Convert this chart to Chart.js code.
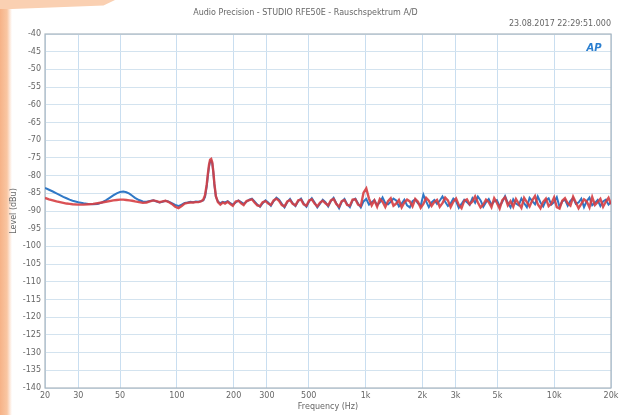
<!DOCTYPE html>
<html>
<head>
<meta charset="utf-8">
<script src="https://cdn.jsdelivr.net/npm/chart.js@4"></script>
<style>
  html, body { margin: 0; padding: 0; }
  body {
    width: 628px; height: 415px; overflow: hidden; position: relative;
    background: linear-gradient(to right, #f6b287 0, #f9c6a2 7px, #fde9dc 10px, #ffffff 12px);
  }
  #corner {
    position: absolute; left: 0; top: 0; width: 115px; height: 9px;
    background: #fad0b2;
    clip-path: polygon(0 0, 100% 0, 90% 60%, 12px 100%, 0 100%);
  }
  canvas { position: absolute; left: 0; top: 0; }
</style>
</head>
<body>
<div id="corner"></div>
<canvas id="noiseChart" width="628" height="415"></canvas>
<script>
// Frequenzen (Hz)
const freqHz = [
  20, 21, 22, 23, 24, 25, 26, 27, 28, 30,
  32, 34, 36, 38, 40, 42, 44, 46, 48, 50,
  52, 54, 56, 58, 60, 63, 66, 69, 72, 75,
  78, 81, 84, 87, 90, 94, 98, 102, 106, 110,
  114, 118, 122, 126, 130, 134, 138, 141, 144, 146,
  148, 150, 152, 154, 156, 158, 161, 165, 170, 175,
  180, 186, 192, 198, 205, 212, 219, 226, 234, 242,
  250, 258, 267, 276, 285, 295, 305, 315, 326, 337,
  348, 360, 372, 385, 398, 411, 425, 440, 455, 470,
  486, 502, 519, 537, 555, 574, 593, 613, 634, 655,
  677, 700, 724, 748, 773, 799, 826, 854, 883, 913,
  944, 976, 1009, 1043, 1078, 1114, 1152, 1191, 1231, 1273,
  1316, 1360, 1406, 1454, 1503, 1554, 1606, 1660, 1716, 1774,
  1834, 1896, 1960, 2026, 2095, 2165, 2239, 2314, 2392, 2473,
  2557, 2643, 2732, 2825, 2920, 3019, 3121, 3226, 3335, 3448,
  3564, 3685, 3809, 3938, 4071, 4209, 4351, 4498, 4650, 4807,
  4969, 5137, 5311, 5490, 5676, 5867, 6066, 6270, 6482, 6701,
  6928, 7162, 7404, 7654, 7912, 8180, 8456, 8742, 9037, 9343,
  9658, 9985, 10322, 10671, 11031, 11404, 11789, 12187, 12599, 13025,
  13465, 13920, 14390, 14876, 15379, 15898, 16436, 16991, 17565, 18158,
  18772, 19406, 20000
];

// Kanal 1 (blau), dBu
const blueLevel = [
  -83.5, -84.0, -84.5, -85.0, -85.5, -86.0, -86.4, -86.8, -87.1, -87.5,
  -87.8, -88.0, -88.1, -88.0, -87.6, -87.0, -86.3, -85.6, -85.0, -84.6,
  -84.5, -84.7, -85.1, -85.7, -86.3, -86.9, -87.3, -87.4, -87.2, -87.0,
  -87.3, -87.6, -87.4, -87.1, -87.3, -87.8, -88.3, -88.6, -88.2, -87.7,
  -87.6, -87.4, -87.5, -87.3, -87.4, -87.2, -87.0, -86.0, -83.0, -80.0,
  -77.5, -76.0, -75.8, -76.5, -79.0, -82.5, -86.0, -87.3, -87.8, -87.4,
  -87.6, -87.2, -87.8, -88.2, -87.6, -87.0, -87.5, -88.0, -87.4, -86.8,
  -86.5, -87.3, -88.2, -88.8, -87.8, -87.0, -87.6, -88.5, -87.2, -86.2,
  -86.8, -88.0, -89.0, -87.5, -86.6, -87.8, -88.6, -87.2, -86.5, -87.9,
  -88.8, -87.3, -86.4, -87.6, -89.0, -87.9, -86.8, -87.5, -88.7, -87.2,
  -86.3, -87.8, -89.2, -87.4, -86.6, -88.1, -88.9, -87.0, -86.5, -87.9,
  -89.0, -87.3, -86.6, -88.2, -87.5, -86.9, -88.4, -87.6, -86.2, -87.8,
  -88.1, -87.4, -86.5, -87.0, -88.7, -87.9, -86.8, -88.4, -89.0, -87.2,
  -86.7, -87.8, -88.5, -85.4, -87.3, -88.9, -87.6, -86.9, -88.0, -87.1,
  -85.9, -87.4, -88.6, -87.9, -86.5, -87.2, -89.1, -88.0, -86.8, -87.5,
  -88.3, -86.4, -87.7, -85.9, -87.0, -88.8, -87.5, -86.6, -88.2, -87.3,
  -86.9, -88.6, -87.4, -85.8, -87.7, -89.0, -86.7, -87.9, -88.4, -86.5,
  -87.8, -88.9, -86.3, -87.2, -88.1, -85.9, -87.6, -88.7, -87.0, -86.4,
  -88.2, -87.5, -86.1, -88.8, -87.3, -86.8, -88.5, -87.1, -86.3, -88.0,
  -87.6, -86.5, -88.9, -87.2, -86.2, -88.4, -87.7, -86.9, -88.6, -87.3,
  -86.8, -88.2, -87.5
];

// Kanal 2 (rot), dBu
const redLevel = [
  -86.3, -86.7, -87.0, -87.3, -87.5, -87.7, -87.9, -88.0, -88.1, -88.2,
  -88.2, -88.1, -88.0, -87.8, -87.6, -87.4, -87.2, -87.0, -86.9, -86.8,
  -86.8, -86.9, -87.0, -87.1, -87.3, -87.5, -87.7, -87.6, -87.3, -87.0,
  -87.2, -87.5, -87.3, -87.1, -87.4, -88.0, -88.8, -89.2, -88.6, -87.9,
  -87.7, -87.6, -87.6, -87.5, -87.5, -87.3, -86.8, -85.5, -82.5, -79.5,
  -77.0, -75.5, -75.3, -76.2, -78.8, -82.2, -85.8, -87.5, -88.2, -87.6,
  -87.9, -87.4, -88.0, -88.5, -87.3, -87.1, -87.8, -88.3, -87.2, -86.9,
  -86.7, -87.6, -88.4, -88.6, -87.5, -87.2, -87.9, -88.3, -87.0, -86.5,
  -87.1, -88.3, -88.7, -87.3, -86.9, -88.0, -88.4, -87.0, -86.8, -88.1,
  -88.5, -87.0, -86.7, -87.9, -88.7, -87.6, -87.1, -87.8, -88.4, -87.0,
  -86.6, -88.0, -88.8, -87.2, -86.9, -88.3, -88.5, -86.8, -86.7, -88.2,
  -88.6, -84.8, -83.6, -86.5, -88.4, -87.0, -88.8, -86.6, -87.4, -88.9,
  -87.2, -86.4, -88.5, -87.9, -86.9, -89.0, -87.6, -86.8, -87.3, -88.7,
  -86.6, -87.4, -89.1, -88.0, -86.3, -87.1, -88.6, -87.5, -86.9, -88.8,
  -87.8, -86.2, -87.0, -88.9, -87.4, -86.5, -88.3, -89.2, -87.1, -86.7,
  -88.1, -87.3, -85.9, -87.6, -89.0, -88.2, -86.8, -87.5, -88.9, -86.4,
  -87.7, -89.3, -86.9, -86.1, -88.4, -87.2, -88.8, -86.6, -87.9, -89.1,
  -86.3, -87.5, -88.7, -87.0, -85.8, -88.1, -89.2, -87.4, -86.5, -88.6,
  -87.9, -86.2, -88.9, -89.3, -87.1, -86.4, -87.8, -88.5, -86.0, -87.6,
  -89.2, -88.0, -86.7, -87.3, -89.0, -86.1, -88.3, -87.5, -86.6, -88.8,
  -87.4, -86.3, -88.1
];

// Achsenbeschriftung
const xTickValues = [20, 30, 50, 100, 200, 300, 500, 1000, 2000, 3000, 5000, 10000, 20000];
const xTickLabels = ['20', '30', '50', '100', '200', '300', '500', '1k', '2k', '3k', '5k', '10k', '20k'];

const labelFont = { family: 'DejaVu Sans', size: 8 };
const labelColor = '#666';

// Rahmen + AP Logo
const framePlugin = {
    id: 'frame',
    beforeDatasetsDraw(chart) {
        const { ctx, chartArea: a } = chart;
        ctx.save();
        ctx.strokeStyle = '#aab6c0';
        ctx.lineWidth = 1.2;
        ctx.strokeRect(a.left, a.top, a.right - a.left, a.bottom - a.top);
        ctx.restore();
    },
    afterDraw(chart) {
        const { ctx, chartArea: a } = chart;
        ctx.save();
        ctx.fillStyle = '#2b7fd0';
        ctx.font = 'italic bold 10px "DejaVu Sans"';
        ctx.textAlign = 'center';
        ctx.textBaseline = 'middle';
        ctx.fillText('AP', a.right - 17, a.top + 14);
        ctx.restore();
    }
};

new Chart(document.getElementById('noiseChart'), {
    type: 'line',
    data: {
        datasets: [
            {
                label: 'Ch2',
                data: freqHz.map((f, i) => ({ x: f, y: redLevel[i] })),
                borderColor: 'rgba(214, 62, 66, 0.9)',
                borderWidth: 2.4,
                pointRadius: 0,
                order: 0
            },
            {
                label: 'Ch1',
                data: freqHz.map((f, i) => ({ x: f, y: blueLevel[i] })),
                borderColor: '#2f78c6',
                borderWidth: 2,
                pointRadius: 0,
                order: 1
            }
        ]
    },
    options: {
        responsive: false,
        animation: false,
        layout: { padding: { left: 0, right: 17, top: 0, bottom: 0 } },
        plugins: {
            legend: { display: false },
            tooltip: { enabled: false },
            title: {
                display: true,
                text: 'Audio Precision - STUDIO RFE50E - Rauschspektrum A/D',
                color: '#666',
                font: { family: 'DejaVu Sans', size: 8, weight: 'normal' },
                padding: { top: 8, bottom: 2 }
            },
            subtitle: {
                display: true,
                text: '23.08.2017 22:29:51.000',
                align: 'end',
                color: '#666',
                font: { family: 'DejaVu Sans', size: 8 },
                padding: { top: 0, bottom: 4.8 }
            }
        },
        scales: {
            x: {
                type: 'logarithmic',
                min: 20,
                max: 20000,
                afterBuildTicks: s => { s.ticks = xTickValues.map(v => ({ value: v })); },
                afterFit: s => { s.height = 27; },
                ticks: {
                    autoSkip: false,
                    maxRotation: 0,
                    padding: 3,
                    color: labelColor,
                    font: labelFont,
                    callback: v => xTickLabels[xTickValues.indexOf(v)]
                },
                grid: { color: '#c9def0', drawTicks: false },
                border: { display: false },
                title: {
                    display: true,
                    text: 'Frequency (Hz)',
                    color: labelColor,
                    font: labelFont,
                    padding: { top: 0, bottom: 3 }
                }
            },
            y: {
                min: -140,
                max: -40,
                afterFit: s => { s.width = 45; },
                ticks: {
                    stepSize: 5,
                    padding: 4,
                    color: labelColor,
                    font: labelFont,
                    callback: v => String(v)
                },
                grid: { color: '#d3e3ef', drawTicks: false },
                border: { display: false },
                title: {
                    display: true,
                    text: 'Level (dBu)',
                    color: labelColor,
                    font: labelFont,
                    padding: { top: 9, bottom: 0 }
                }
            }
        }
    },
    plugins: [framePlugin]
});
</script>
</body>
</html>
